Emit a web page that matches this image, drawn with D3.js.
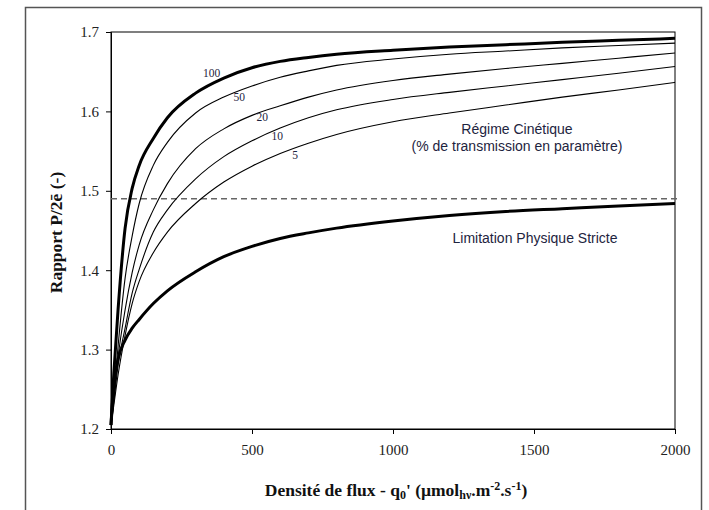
<!DOCTYPE html>
<html>
<head>
<meta charset="utf-8">
<script src="https://cdn.jsdelivr.net/npm/d3@7/dist/d3.min.js"></script>
<style>
  html, body { margin: 0; padding: 0; background: #fff; }
  svg { display: block; }
</style>
</head>
<body>
<svg id="chart" width="709" height="510"></svg>
<script>
// Photon flux density q0' (µmol_hν m^-2 s^-1) sampled along the x axis
const fluxValues = [0, 10, 25, 50, 75, 100, 150, 200, 300, 400, 500, 600, 700, 800, 1000, 1200, 1400, 1600, 1800, 2000];

// P/2e- ratio, kinetic regime, one curve per transmission percentage
const ratioT100 = [1.205, 1.270, 1.350, 1.453, 1.503, 1.532, 1.566, 1.592, 1.623, 1.642, 1.655, 1.663, 1.668, 1.672, 1.677, 1.681, 1.684, 1.687, 1.6895, 1.692];
const ratioT50  = [1.205, 1.242, 1.304, 1.390, 1.443, 1.484, 1.532, 1.561, 1.598, 1.618, 1.632, 1.643, 1.651, 1.658, 1.666, 1.672, 1.676, 1.680, 1.683, 1.686];
const ratioT20  = [1.205, 1.238, 1.290, 1.350, 1.397, 1.432, 1.476, 1.509, 1.553, 1.578, 1.595, 1.607, 1.618, 1.627, 1.639, 1.647, 1.654, 1.6605, 1.667, 1.6735];
const ratioT10  = [1.205, 1.234, 1.280, 1.327, 1.371, 1.401, 1.448, 1.476, 1.515, 1.543, 1.563, 1.579, 1.592, 1.602, 1.615, 1.624, 1.632, 1.640, 1.648, 1.6565];
const ratioT5   = [1.205, 1.230, 1.268, 1.318, 1.358, 1.386, 1.422, 1.448, 1.484, 1.511, 1.531, 1.547, 1.560, 1.571, 1.587, 1.598, 1.608, 1.618, 1.627, 1.6365];

// Strict physical limitation
const ratioPhysical = [1.205, 1.255, 1.288, 1.312, 1.327, 1.338, 1.358, 1.374, 1.398, 1.417, 1.430, 1.440, 1.447, 1.453, 1.462, 1.469, 1.474, 1.4775, 1.481, 1.484];

// Horizontal threshold (dashed)
const thresholdRatio = 1.49;

const transmissionLabels = ["100", "50", "20", "10", "5"];
// label anchor points in data units (flux, ratio)
const labelFlux  = [326, 434, 516, 569, 643];
const labelRatio = [1.6433, 1.6125, 1.5873, 1.5640, 1.5400];

const xTicks = [0, 500, 1000, 1500, 2000];
const yTicks = [1.2, 1.3, 1.4, 1.5, 1.6, 1.7];

const svg = d3.select("#chart");
const plot = { left: 111, top: 32, right: 675, bottom: 429 };

const x = d3.scaleLinear().domain([0, 2000]).range([plot.left, plot.right]);
const y = d3.scaleLinear().domain([1.2, 1.7]).range([plot.bottom, plot.top]);

// outer frame
svg.append("rect")
  .attr("x", 25.5).attr("y", 7.5)
  .attr("width", 676).attr("height", 540)
  .attr("fill", "none").attr("stroke", "#555").attr("stroke-width", 1.5);

// plot box
svg.append("rect")
  .attr("x", plot.left).attr("y", plot.top)
  .attr("width", plot.right - plot.left).attr("height", plot.bottom - plot.top)
  .attr("fill", "none").attr("stroke", "#000").attr("stroke-width", 1);

const serif = "'Liberation Serif', 'Times New Roman', serif";
const sans = "'Liberation Sans', Arial, sans-serif";

// axes
const xAxis = svg.append("g")
  .attr("transform", `translate(0,${plot.bottom})`)
  .call(d3.axisBottom(x).tickValues(xTicks).tickSize(5).tickPadding(10).tickFormat(d3.format("d")));
const yAxis = svg.append("g")
  .attr("transform", `translate(${plot.left},0)`)
  .call(d3.axisLeft(y).tickValues(yTicks).tickSize(5).tickPadding(7).tickFormat(d3.format(".1f")));
[xAxis, yAxis].forEach(g => {
  g.select(".domain").attr("stroke", "#000");
  g.selectAll(".tick line").attr("stroke", "#000");
  g.selectAll(".tick text").attr("font-family", serif).attr("font-size", 15).attr("fill", "#222");
});

// threshold line
svg.append("line")
  .attr("x1", x(0)).attr("x2", x(2000) + 4)
  .attr("y1", y(thresholdRatio)).attr("y2", y(thresholdRatio))
  .attr("stroke", "#666").attr("stroke-width", 1.4)
  .attr("stroke-dasharray", "6,4");

const line = d3.line()
  .x((d, i) => x(fluxValues[i]))
  .y(d => y(d))
  .curve(d3.curveMonotoneX);

const series = [
  { values: ratioPhysical, width: 3 },
  { values: ratioT5, width: 1.1 },
  { values: ratioT10, width: 1.1 },
  { values: ratioT20, width: 1.1 },
  { values: ratioT50, width: 1.1 },
  { values: ratioT100, width: 3 }
];
svg.append("g").selectAll("path")
  .data(series)
  .join("path")
  .attr("d", d => line(d.values))
  .attr("fill", "none")
  .attr("stroke", "#000")
  .attr("stroke-width", d => d.width)
  .attr("stroke-linejoin", "round");

// transmission labels
svg.append("g").selectAll("text")
  .data(transmissionLabels)
  .join("text")
  .attr("x", (d, i) => x(labelFlux[i]))
  .attr("y", (d, i) => y(labelRatio[i]))
  .attr("font-family", serif).attr("font-size", 11.5).attr("fill", "#1e2440")
  .text(d => d);

// region annotations
const note = (tx, ty, s) => svg.append("text")
  .attr("x", tx).attr("y", ty)
  .attr("text-anchor", "middle")
  .attr("font-family", sans).attr("font-size", 14).attr("fill", "#1e2440")
  .text(s);
note(517, 134, "Régime Cinétique");
note(517, 151, "(% de transmission en paramètre)");
note(535, 243, "Limitation Physique Stricte");

// axis titles
const xt = svg.append("text")
  .attr("x", 396).attr("y", 496)
  .attr("text-anchor", "middle")
  .attr("font-family", serif).attr("font-size", 17.5).attr("font-weight", "bold").attr("fill", "#111");
xt.append("tspan").text("Densité de flux - q");
xt.append("tspan").attr("font-size", 12).attr("dy", 3).text("0");
xt.append("tspan").attr("dy", -3).text("' (µmol");
xt.append("tspan").attr("font-size", 12).attr("dy", 3).text("hν");
xt.append("tspan").attr("dy", -3).text(".m");
xt.append("tspan").attr("font-size", 12).attr("dy", -6).text("-2");
xt.append("tspan").attr("dy", 6).text(".s");
xt.append("tspan").attr("font-size", 12).attr("dy", -6).text("-1");
xt.append("tspan").attr("dy", 6).text(")");

svg.append("text")
  .attr("transform", `translate(62,${(plot.top + plot.bottom) / 2 + 2}) rotate(-90)`)
  .attr("text-anchor", "middle")
  .attr("font-family", serif).attr("font-size", 17.5).attr("font-weight", "bold").attr("fill", "#111")
  .text("Rapport P/2ē (-)");
</script>
</body>
</html>
